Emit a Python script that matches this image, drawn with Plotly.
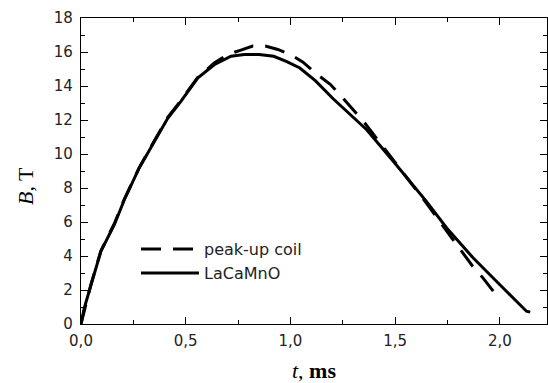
import plotly.graph_objects as go

# LaCaMnO sensor (solid)
t_lcmo = [0.0, 0.015, 0.048, 0.095, 0.159, 0.207, 0.278, 0.342, 0.414, 0.477, 0.557, 0.636,
          0.716, 0.78, 0.85, 0.92, 0.98, 1.045, 1.12, 1.204, 1.364, 1.491, 1.650, 1.746,
          1.873, 2.0, 2.127, 2.145]
b_lcmo = [0.0, 0.9, 2.31, 4.27, 5.84, 7.31, 9.18, 10.55, 12.1, 13.1, 14.47, 15.25,
          15.75, 15.85, 15.85, 15.75, 15.45, 15.06, 14.3, 13.25, 11.43, 9.57, 7.2, 5.65,
          3.88, 2.31, 0.75, 0.7]

# pick-up coil (dashed)
t_coil = [0.0, 0.048, 0.095, 0.159, 0.207, 0.278, 0.342, 0.414, 0.477, 0.557, 0.636, 0.70,
          0.76, 0.82, 0.88, 0.94, 1.0, 1.06, 1.12, 1.19, 1.25, 1.35, 1.45, 1.55, 1.65,
          1.72, 1.81, 1.87, 1.92, 1.97, 2.0]
b_coil = [0.0, 2.35, 4.3, 5.9, 7.35, 9.2, 10.6, 12.15, 13.15, 14.5, 15.35, 15.85,
          16.1, 16.35, 16.35, 16.15, 15.85, 15.4, 14.75, 14.1, 13.3, 11.9, 10.3, 8.7, 7.1,
          5.9, 4.4, 3.4, 2.7, 1.9, 1.6]

series_names = ["peak-up coil", "LaCaMnO"]
x_ticks = [0.0, 0.5, 1.0, 1.5, 2.0]
y_ticks = [0, 2, 4, 6, 8, 10, 12, 14, 16, 18]

fig = go.Figure()
fig.add_trace(go.Scatter(x=t_coil, y=b_coil, mode="lines", name=series_names[0],
                         line=dict(color="black", width=3, dash="20px,12px")))
fig.add_trace(go.Scatter(x=t_lcmo, y=b_lcmo, mode="lines", name=series_names[1],
                         line=dict(color="black", width=3)))

tickfont = dict(family="DejaVu Sans", size=15, color="#222")
axis_common = dict(showline=True, linecolor="black", linewidth=1.2, mirror="allticks",
                   ticks="inside", ticklen=7, tickwidth=1.2, tickcolor="black",
                   showgrid=False, zeroline=False, tickfont=tickfont)

fig.update_xaxes(range=[0, 2.225], tickvals=x_ticks, tickformat=".1f",
                 ticklabelstandoff=3,
                 minor=dict(ticks="inside", ticklen=4, tickwidth=1.2, dtick=0.25, tick0=0,
                            tickcolor="black"),
                 title=dict(text="<i>t</i>, <b>ms</b>", standoff=17,
                            font=dict(family="Liberation Serif", size=22, color="black")),
                 **axis_common)
fig.update_yaxes(range=[0, 18], tickvals=y_ticks, ticklabelstandoff=4,
                 minor=dict(ticks="inside", ticklen=4, tickwidth=1.2, dtick=1, tick0=0,
                            tickcolor="black"),
                 **axis_common)

fig.add_annotation(text="<i>B</i>, T", xref="paper", yref="paper",
                   x=-0.118, y=0.451, xanchor="center", yanchor="middle",
                   textangle=-90, showarrow=False,
                   font=dict(family="Liberation Serif", size=22, color="black"))

fig.update_layout(
    width=548, height=383,
    margin=dict(l=81, r=1, t=18, b=59),
    paper_bgcolor="white", plot_bgcolor="white",
    separators=", ",
    showlegend=True,
    legend=dict(x=0.118, y=0.30, xanchor="left", yanchor="top",
                bgcolor="rgba(0,0,0,0)", borderwidth=0, itemwidth=58,
                font=dict(family="DejaVu Sans", size=16, color="#222"),
                tracegroupgap=0),
)

fig.write_html("out.html")
